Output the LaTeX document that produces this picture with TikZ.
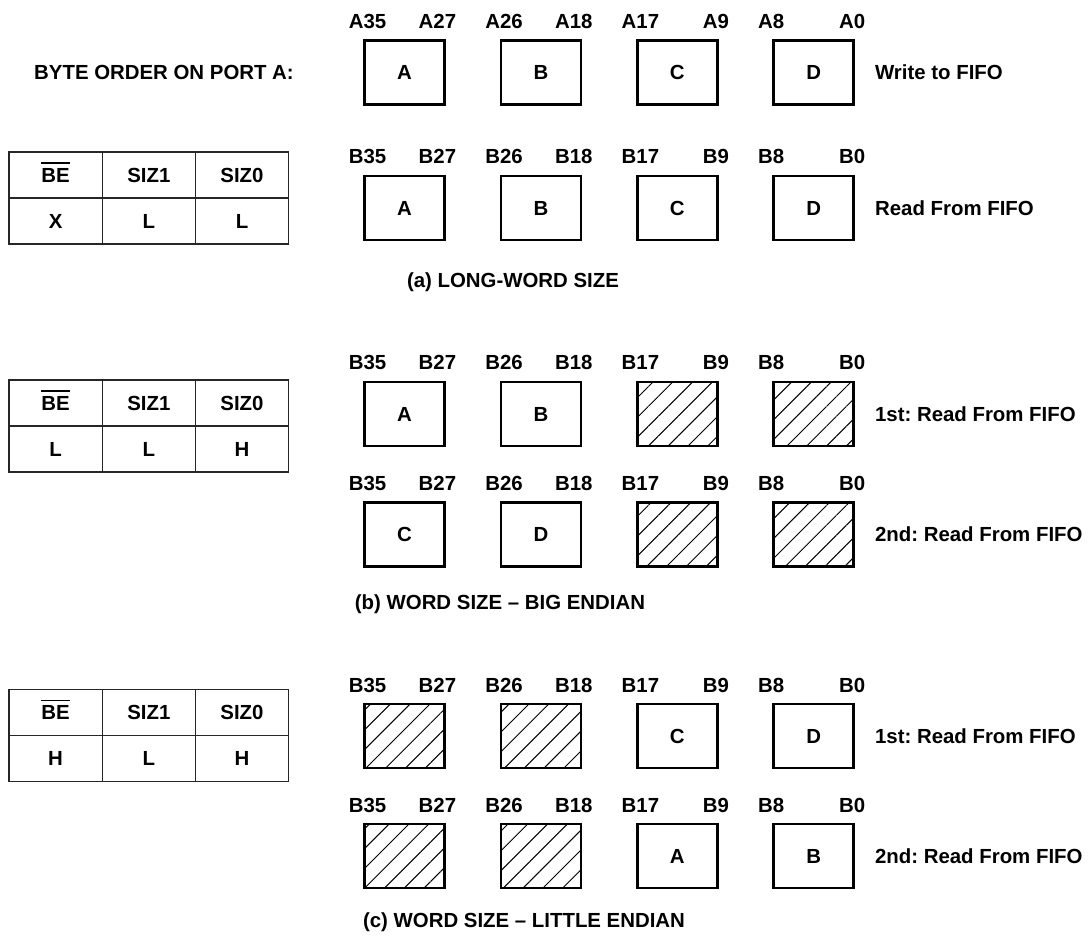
\documentclass[tikz,border=0pt]{standalone}
\usepackage{fontspec}
\setmainfont{Liberation Sans}
\usepackage{tikz}
\usetikzlibrary{positioning, patterns.meta}
\frenchspacing

% active-low signal name: bar over the text
\newcommand{\lowsig}[1]{\setbox0\hbox{#1}\rlap{\smash{\rule[\dimexpr\ht0+2pt\relax]{\wd0}{0.85pt}}}#1}

\begin{document}
\begin{tikzpicture}[
      x=0.5pt, y=-0.5pt,
      font=\fontsize{10.2}{12}\selectfont\bfseries,
      node distance=28.2pt,
      lane/.style={draw, line width=1.35pt, minimum width=40pt, minimum height=32pt,
                   inner sep=0pt, outer sep=0pt},
      hatch/.style={lane, pattern={Lines[angle=45, distance=7pt, line width=0.5pt]}},
      cell/.style={draw=black!85, line width=0.6pt, minimum width=46.6pt, minimum height=23pt,
                   inner sep=0pt, outer sep=0pt},
      pinl/.style={anchor=base west, inner sep=0pt, xshift=-8pt, yshift=6pt},
      pinr/.style={anchor=base east, inner sep=0pt, xshift=6pt, yshift=6pt},
      txt/.style={inner sep=0pt}]

    \useasboundingbox (0,0) rectangle (1088,936);

    % (a) long word
    \node[txt] (port) at (164,72) {BYTE ORDER ON PORT A:};
    \node[lane] (w1) at (404.5,72.5) {A};
    \node[lane, right=of w1] (w2) {B};
    \node[lane, right=of w2] (w3) {C};
    \node[lane, right=of w3] (w4) {D};
    \node[txt, right=10.5pt of w4] (wr) {Write to FIFO};
    \node[pinl] (w1l) at (w1.north west) {A35};
    \node[pinr] (w1r) at (w1.north east) {A27};
    \node[pinl] (w2l) at (w2.north west) {A26};
    \node[pinr] (w2r) at (w2.north east) {A18};
    \node[pinl] (w3l) at (w3.north west) {A17};
    \node[pinr] (w3r) at (w3.north east) {A9};
    \node[pinl] (w4l) at (w4.north west) {A8};
    \node[pinr] (w4r) at (w4.north east) {A0};

    \node[lane] (l1) at (404.5,208) {A};
    \node[lane, right=of l1] (l2) {B};
    \node[lane, right=of l2] (l3) {C};
    \node[lane, right=of l3] (l4) {D};
    \node[txt, right=10.5pt of l4] (lr) {Read From FIFO};
    \node[pinl] (l1l) at (l1.north west) {B35};
    \node[pinr] (l1r) at (l1.north east) {B27};
    \node[pinl] (l2l) at (l2.north west) {B26};
    \node[pinr] (l2r) at (l2.north east) {B18};
    \node[pinl] (l3l) at (l3.north west) {B17};
    \node[pinr] (l3r) at (l3.north east) {B9};
    \node[pinl] (l4l) at (l4.north west) {B8};
    \node[pinr] (l4r) at (l4.north east) {B0};

    \node[cell] (t1be) at (55.6,175) {\lowsig{BE}};
    \node[cell, right=0pt of t1be] (t1s1) {SIZ1};
    \node[cell, right=0pt of t1s1] (t1s0) {SIZ0};
    \node[cell, below=0pt of t1be] (t1v1) {X};
    \node[cell, below=0pt of t1s1] (t1v2) {L};
    \node[cell, below=0pt of t1s0] (t1v3) {L};

    \node[txt] (capa) at (513,282) {(a) LONG-WORD SIZE};

    % (b) word, big endian
    \node[lane] (bf1) at (404.5,414) {A};
    \node[lane, right=of bf1] (bf2) {B};
    \node[hatch, right=of bf2] (bf3) {};
    \node[hatch, right=of bf3] (bf4) {};
    \node[txt, right=10.5pt of bf4] (bfr) {1st: Read From FIFO};
    \node[pinl] (bf1l) at (bf1.north west) {B35};
    \node[pinr] (bf1r) at (bf1.north east) {B27};
    \node[pinl] (bf2l) at (bf2.north west) {B26};
    \node[pinr] (bf2r) at (bf2.north east) {B18};
    \node[pinl] (bf3l) at (bf3.north west) {B17};
    \node[pinr] (bf3r) at (bf3.north east) {B9};
    \node[pinl] (bf4l) at (bf4.north west) {B8};
    \node[pinr] (bf4r) at (bf4.north east) {B0};

    \node[lane] (bs1) at (404.5,534.5) {C};
    \node[lane, right=of bs1] (bs2) {D};
    \node[hatch, right=of bs2] (bs3) {};
    \node[hatch, right=of bs3] (bs4) {};
    \node[txt, right=10.5pt of bs4] (bsr) {2nd: Read From FIFO};
    \node[pinl] (bs1l) at (bs1.north west) {B35};
    \node[pinr] (bs1r) at (bs1.north east) {B27};
    \node[pinl] (bs2l) at (bs2.north west) {B26};
    \node[pinr] (bs2r) at (bs2.north east) {B18};
    \node[pinl] (bs3l) at (bs3.north west) {B17};
    \node[pinr] (bs3r) at (bs3.north east) {B9};
    \node[pinl] (bs4l) at (bs4.north west) {B8};
    \node[pinr] (bs4r) at (bs4.north east) {B0};

    \node[cell] (t2be) at (55.6,403) {\lowsig{BE}};
    \node[cell, right=0pt of t2be] (t2s1) {SIZ1};
    \node[cell, right=0pt of t2s1] (t2s0) {SIZ0};
    \node[cell, below=0pt of t2be] (t2v1) {L};
    \node[cell, below=0pt of t2s1] (t2v2) {L};
    \node[cell, below=0pt of t2s0] (t2v3) {H};

    \node[txt] (capb) at (500,604) {(b) WORD SIZE -- BIG ENDIAN};

    % (c) word, little endian
    \node[hatch] (lf1) at (404.5,736) {};
    \node[hatch, right=of lf1] (lf2) {};
    \node[lane, right=of lf2] (lf3) {C};
    \node[lane, right=of lf3] (lf4) {D};
    \node[txt, right=10.5pt of lf4] (lfr) {1st: Read From FIFO};
    \node[pinl] (lf1l) at (lf1.north west) {B35};
    \node[pinr] (lf1r) at (lf1.north east) {B27};
    \node[pinl] (lf2l) at (lf2.north west) {B26};
    \node[pinr] (lf2r) at (lf2.north east) {B18};
    \node[pinl] (lf3l) at (lf3.north west) {B17};
    \node[pinr] (lf3r) at (lf3.north east) {B9};
    \node[pinl] (lf4l) at (lf4.north west) {B8};
    \node[pinr] (lf4r) at (lf4.north east) {B0};

    \node[hatch] (ls1) at (404.5,856) {};
    \node[hatch, right=of ls1] (ls2) {};
    \node[lane, right=of ls2] (ls3) {A};
    \node[lane, right=of ls3] (ls4) {B};
    \node[txt, right=10.5pt of ls4] (lsr) {2nd: Read From FIFO};
    \node[pinl] (ls1l) at (ls1.north west) {B35};
    \node[pinr] (ls1r) at (ls1.north east) {B27};
    \node[pinl] (ls2l) at (ls2.north west) {B26};
    \node[pinr] (ls2r) at (ls2.north east) {B18};
    \node[pinl] (ls3l) at (ls3.north west) {B17};
    \node[pinr] (ls3r) at (ls3.north east) {B9};
    \node[pinl] (ls4l) at (ls4.north west) {B8};
    \node[pinr] (ls4r) at (ls4.north east) {B0};

    \node[cell] (t3be) at (55.6,712.5) {\lowsig{BE}};
    \node[cell, right=0pt of t3be] (t3s1) {SIZ1};
    \node[cell, right=0pt of t3s1] (t3s0) {SIZ0};
    \node[cell, below=0pt of t3be] (t3v1) {H};
    \node[cell, below=0pt of t3s1] (t3v2) {L};
    \node[cell, below=0pt of t3s0] (t3v3) {H};

    \node[txt] (capc) at (524,922) {(c) WORD SIZE -- LITTLE ENDIAN};
  \end{tikzpicture}
\end{document}
